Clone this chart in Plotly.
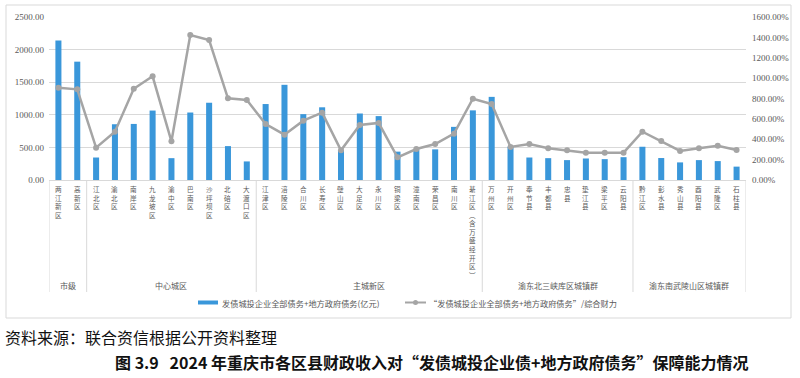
import plotly.graph_objects as go

groups = ["市级", "中心城区", "主城新区", "渝东北三峡库区城镇群", "渝东南武陵山区城镇群"]
group_sizes = [2, 9, 12, 8, 6]
categories = [
    "两江新区", "高新区",
    "江北区", "渝北区", "南岸区", "九龙坡区", "渝中区", "巴南区", "沙坪坝区", "北碚区", "大渡口区",
    "江津区", "涪陵区", "合川区", "长寿区", "璧山区", "大足区", "永川区", "铜梁区", "潼南区", "荣昌区", "南川区", "綦江区（含万盛经开区）",
    "万州区", "开州区", "奉节县", "丰都县", "忠县", "垫江县", "梁平区", "云阳县",
    "黔江区", "彭水县", "秀山县", "酉阳县", "武隆区", "石柱县",
]
debt = [
    2140, 1815,
    345, 855, 860, 1065, 335, 1035, 1185, 520, 285,
    1165, 1460, 1010, 1115, 460, 1020, 980, 435, 470, 470, 815, 1068,
    1275, 510, 345, 335, 305, 330, 320, 350,
    510, 337, 270, 305, 290, 205,
]
ratio = [
    905, 890,
    317, 474, 896, 1018, 380, 1423, 1374, 802, 785,
    550, 445, 582, 661, 291, 540, 560, 223, 304, 353, 455, 798,
    746, 324, 353, 311, 291, 268, 268, 268,
    474, 383, 285, 311, 337, 294,
]
left_ticks = [0, 500, 1000, 1500, 2000, 2500]
right_ticks = [0, 200, 400, 600, 800, 1000, 1200, 1400, 1600]

BLUE = "#3A97DA"
GRAY = "#A5A5A5"
TXT = "#595959"
CJK = "Noto Sans CJK SC"
SERIF = "Liberation Serif"

W, H = 800, 378
L, R, T, B = 49, 746, 17, 180  # plot area in px


def px_x(p):
    return (p - L) / (R - L)


def px_y(p):
    return (B - p) / (B - T)


fig = go.Figure()
fig.add_trace(go.Bar(x=categories, y=debt, marker_color=BLUE, marker_line_width=0,
                     name="发债城投企业全部债务+地方政府债务(亿元)", showlegend=False))
fig.add_trace(go.Scatter(x=categories, y=ratio, yaxis="y2", mode="lines+markers",
                         line=dict(color=GRAY, width=2.5), marker=dict(color=GRAY, size=6),
                         name="“发债城投企业全部债务+地方政府债务”/综合财力", showlegend=False))

shapes = []
annotations = []

# outer border
shapes.append(dict(type="rect", xref="paper", yref="paper",
                   x0=px_x(6), x1=px_x(791), y0=px_y(318), y1=px_y(5),
                   line=dict(color="#D9D9D9", width=1), fillcolor="rgba(0,0,0,0)", layer="below"))

# group dividers and group labels
bounds = [-0.5]
acc = -0.5
for s in group_sizes:
    acc += s
    bounds.append(acc)
for b in bounds:
    shapes.append(dict(type="line", xref="x", yref="paper", x0=b, x1=b,
                       y0=0, y1=px_y(292), line=dict(color="#D9D9D9", width=1)))
for i, g in enumerate(groups):
    c = (bounds[i] + bounds[i + 1]) / 2
    annotations.append(dict(x=c, y=px_y(285), xref="x", yref="paper", text=g, showarrow=False,
                            font=dict(family=CJK, size=8, color=TXT), xanchor="center", yanchor="middle"))

# vertical category labels (one character per line)
vert_map = {"（": "︵", "）": "︶"}
for cat in categories:
    txt = "<br>".join(vert_map.get(ch, ch) for ch in cat)
    annotations.append(dict(x=cat, y=px_y(183), xref="x", yref="paper", text=txt, showarrow=False,
                            font=dict(family=CJK, size=6.6, color=TXT), borderpad=0,
                            xanchor="center", yanchor="top", align="center"))

# custom legend
ly = 302.5
shapes.append(dict(type="rect", xref="paper", yref="paper", x0=px_x(198), x1=px_x(218),
                   y0=px_y(ly + 2), y1=px_y(ly - 2), fillcolor=BLUE, line=dict(width=0)))
annotations.append(dict(x=px_x(220), y=px_y(ly), xref="paper", yref="paper",
                        text="发债城投企业全部债务+地方政府债务(亿元)", showarrow=False,
                        font=dict(family=CJK, size=8.2, color=TXT), xanchor="left", yanchor="middle"))
shapes.append(dict(type="line", xref="paper", yref="paper", x0=px_x(405), x1=px_x(426),
                   y0=px_y(ly), y1=px_y(ly), line=dict(color=GRAY, width=2)))
shapes.append(dict(type="circle", xref="paper", yref="paper", x0=px_x(413), x1=px_x(418),
                   y0=px_y(ly + 2.5), y1=px_y(ly - 2.5), fillcolor=GRAY, line=dict(width=0)))
annotations.append(dict(x=px_x(427), y=px_y(ly), xref="paper", yref="paper",
                        text="“发债城投企业全部债务+地方政府债务”/综合财力", showarrow=False,
                        font=dict(family=CJK, size=8.2, color=TXT), xanchor="left", yanchor="middle"))

# source & caption
annotations.append(dict(x=px_x(3), y=px_y(337), xref="paper", yref="paper",
                        text="资料来源：联合资信根据公开资料整理", showarrow=False,
                        font=dict(family=CJK, size=16, color="#111111"), xanchor="left", yanchor="middle"))
annotations.append(dict(x=px_x(431), y=px_y(362), xref="paper", yref="paper",
                        text="<b>图 3.9   2024 年重庆市各区县财政收入对“发债城投企业债+地方政府债务”保障能力情况</b>",
                        showarrow=False,
                        font=dict(family=CJK, size=16, color="#111111"), xanchor="center", yanchor="middle"))

fig.update_layout(
    width=W, height=H,
    margin=dict(l=L, r=W - R, t=T, b=H - B, pad=0),
    paper_bgcolor="white", plot_bgcolor="white",
    bargap=0.68,
    showlegend=False,
    hovermode=False,
    shapes=shapes, annotations=annotations,
    xaxis=dict(type="category", range=[-0.5, len(categories) - 0.5], showticklabels=False,
               showgrid=False, showline=True, linecolor="#D9D9D9", linewidth=1, ticks="", zeroline=False,
               fixedrange=True, automargin=False),
    yaxis=dict(range=[0, 2500], tickvals=left_ticks, ticktext=[f"{v:.2f}" for v in left_ticks],
               showgrid=True, gridcolor="#D9D9D9", gridwidth=1, zeroline=False, showline=False, ticks="",
               tickfont=dict(family=SERIF, size=9, color=TXT), ticklabelstandoff=4, automargin=False),
    yaxis2=dict(range=[0, 1600], tickvals=right_ticks, ticktext=[f"{v:.2f}%" for v in right_ticks],
                overlaying="y", side="right", showgrid=False, zeroline=False, showline=False, ticks="",
                tickfont=dict(family=SERIF, size=9, color=TXT), ticklabelstandoff=5, automargin=False),
)

fig.write_html("out.html", config={"displayModeBar": False, "staticPlot": True},
               post_script="document.body.style.margin='0px';document.body.style.overflow='hidden';")
